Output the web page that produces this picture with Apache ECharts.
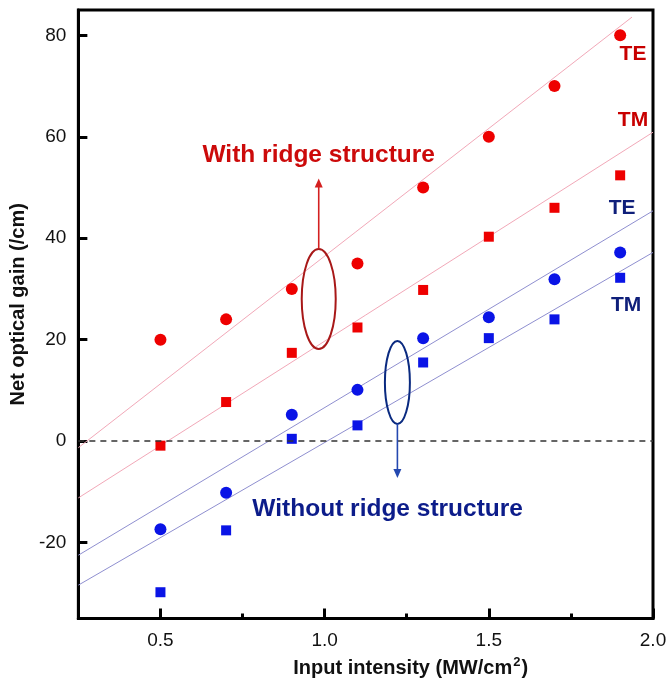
<!DOCTYPE html>
<html><head><meta charset="utf-8">
<script src="https://cdn.jsdelivr.net/npm/echarts@6/dist/echarts.min.js"></script>
<style>html,body{margin:0;padding:0;background:#fff}#c{width:670px;height:683px}</style>
</head><body><div id="c"></div>
<script>
// ---- data ----
const xValues = [0.5, 0.7, 0.9, 1.1, 1.3, 1.5, 1.7, 1.9];
const teRidge = [20, 24, 30, 35, 50, 60, 70, 80];
const tmRidge = [-0.9, 7.7, 17.4, 22.4, 29.8, 40.3, 46.0, 52.4];
const teNoRidge = [-17.4, -10.2, 5.2, 10.1, 20.3, 24.4, 31.9, 37.2];
const tmNoRidge = [-29.8, -17.6, 0.45, 3.1, 15.5, 20.3, 24.0, 32.2];
// fitted guide lines: [x, y] end points
const fitTeRidge = [[0.25, -1.3], [1.936, 83.6]];
const fitTmRidge = [[0.25, -11.2], [2.0, 60.9]];
const fitTeNoRidge = [[0.25, -22.5], [2.0, 45.4]];
const fitTmNoRidge = [[0.25, -28.4], [2.0, 37.2]];
const xMajorTicks = [0.5, 1.0, 1.5, 2.0];
const xMinorTicks = [0.75, 1.25, 1.75];
const yTicks = [-20, 0, 20, 40, 60, 80];

const FONT = "'Liberation Sans', Arial, sans-serif";
const RED = '#ee0000', BLUE = '#0a14e6';
const pair = (ys) => xValues.map((x, i) => [x, ys[i]]);

const chart = echarts.init(document.getElementById('c'), null, {renderer: 'canvas'});
const fitLine = (data, color) => ({
  type: 'line', data, symbol: 'none', silent: true, z: 1,
  lineStyle: {color, width: 1}
});
const scatter = (data, symbol, size, color) => ({
  type: 'scatter', data, symbol, symbolSize: size, z: 3,
  itemStyle: {color, opacity: 1}
});

chart.setOption({
  animation: false,
  backgroundColor: '#fff',
  grid: {left: 73, right: 17, top: 10, bottom: 63, show: true, borderColor: '#000', borderWidth: 3},
  xAxis: [{
    type: 'value', min: 0.25, max: 2.0, interval: 0.25,
    axisLine: {show: true, onZero: false, lineStyle: {color: '#000', width: 3}},
    axisTick: {show: true, inside: true, length: 10, customValues: xMajorTicks, lineStyle: {color: '#000', width: 3}},
    axisLabel: {customValues: xMajorTicks, color: '#111', fontSize: 19, fontFamily: FONT, margin: 13,
      formatter: v => v.toFixed(1)},
    splitLine: {show: false},
    name: 'Input intensity (MW/cm{sup|2})', nameLocation: 'middle', nameGap: 34,
    nameTextStyle: {color: '#111', fontSize: 20, fontWeight: 'bold', fontFamily: FONT, padding: [0, 0, 0, 90],
      rich: {sup: {fontSize: 13, fontWeight: 'bold', fontFamily: FONT, color: '#111', padding: [0, 1, 12, 1]}}}
  }, {
    type: 'value', min: 0.25, max: 2.0, interval: 0.25, position: 'bottom', gridIndex: 0,
    axisLine: {show: false, onZero: false},
    axisTick: {show: true, inside: true, length: 5, customValues: xMinorTicks, lineStyle: {color: '#000', width: 3}},
    axisLabel: {show: false}, splitLine: {show: false}
  }],
  yAxis: {
    type: 'value', min: -35, max: 85,
    axisLine: {show: true, onZero: false, lineStyle: {color: '#000', width: 3}},
    axisTick: {show: true, inside: true, length: 9, customValues: yTicks, lineStyle: {color: '#000', width: 3}},
    axisLabel: {customValues: yTicks, color: '#111', fontSize: 19, fontFamily: FONT, margin: 12},
    splitLine: {show: false},
    name: 'Net optical gain (/cm)', nameLocation: 'middle', nameGap: 44,
    nameTextStyle: {color: '#111', fontSize: 20, fontWeight: 'bold', fontFamily: FONT, padding: [0, 0, 0, 20]}
  },
  series: [
    Object.assign(fitLine(fitTeRidge, '#f2a8b8'), {
      markLine: {silent: true, symbol: 'none', label: {show: false},
        lineStyle: {color: '#333', type: [6, 5], width: 1.5}, data: [{yAxis: 0}]}
    }),
    fitLine(fitTmRidge, '#f2a8b8'),
    fitLine(fitTeNoRidge, '#8f8fd0'),
    fitLine(fitTmNoRidge, '#8f8fd0'),
    scatter(pair(teRidge), 'circle', 12, RED),
    scatter(pair(tmRidge), 'rect', 10, RED),
    scatter(pair(teNoRidge), 'circle', 12, BLUE),
    scatter(pair(tmNoRidge), 'rect', 10, BLUE)
  ]
});

// ---- annotations, anchored in data coordinates ----
const P = (x, y) => chart.convertToPixel({gridIndex: 0}, [x, y]);
const texts = [
  {t: 'With ridge structure', at: [0.982, 56.3], color: '#cc0a0a', size: 24.5},
  {t: 'Without ridge structure', at: [1.192, -13.5], color: '#0c1c8a', size: 24.5},
  {t: 'TE', at: [1.939, 76.2], color: '#c80000', size: 21},
  {t: 'TM', at: [1.939, 63.2], color: '#c80000', size: 21},
  {t: 'TE', at: [1.906, 45.9], color: '#0f1f7a', size: 21},
  {t: 'TM', at: [1.918, 26.8], color: '#0f1f7a', size: 21}
];
const g = [];
texts.forEach(o => {
  const p = P(o.at[0], o.at[1]);
  g.push({type: 'text', x: p[0], y: p[1], z: 10,
    style: {text: o.t, fill: o.color, font: `bold ${o.size}px ${FONT}`, align: 'center', verticalAlign: 'middle'}});
});
const ellipses = [
  {at: [0.982, 28.0], rx: 17, ry: 50, color: '#a81818'},
  {at: [1.2216, 11.56], rx: 12.5, ry: 41.5, color: '#0a2a80'}
];
ellipses.forEach(e => {
  const c = P(e.at[0], e.at[1]);
  g.push({type: 'ellipse', z: 10, shape: {cx: c[0], cy: c[1], rx: e.rx, ry: e.ry},
    style: {fill: 'none', stroke: e.color, lineWidth: 2}});
});
const arrows = [
  {from: [0.982, 38.0], to: [0.982, 51.8], color: '#d42020'},
  {from: [1.2216, 3.4], to: [1.2216, -7.3], color: '#2448b0'}
];
arrows.forEach(a => {
  const f = P(a.from[0], a.from[1]), t = P(a.to[0], a.to[1]);
  const dir = t[1] < f[1] ? -1 : 1;
  g.push({type: 'line', z: 10, shape: {x1: f[0], y1: f[1], x2: t[0], y2: t[1] - dir * 6},
    style: {stroke: a.color, lineWidth: 1.6}});
  g.push({type: 'polygon', z: 10, shape: {points: [[t[0], t[1]], [t[0] - 4, t[1] - dir * 9], [t[0] + 4, t[1] - dir * 9]]},
    style: {fill: a.color}});
});
chart.setOption({graphic: g});
</script></body></html>
